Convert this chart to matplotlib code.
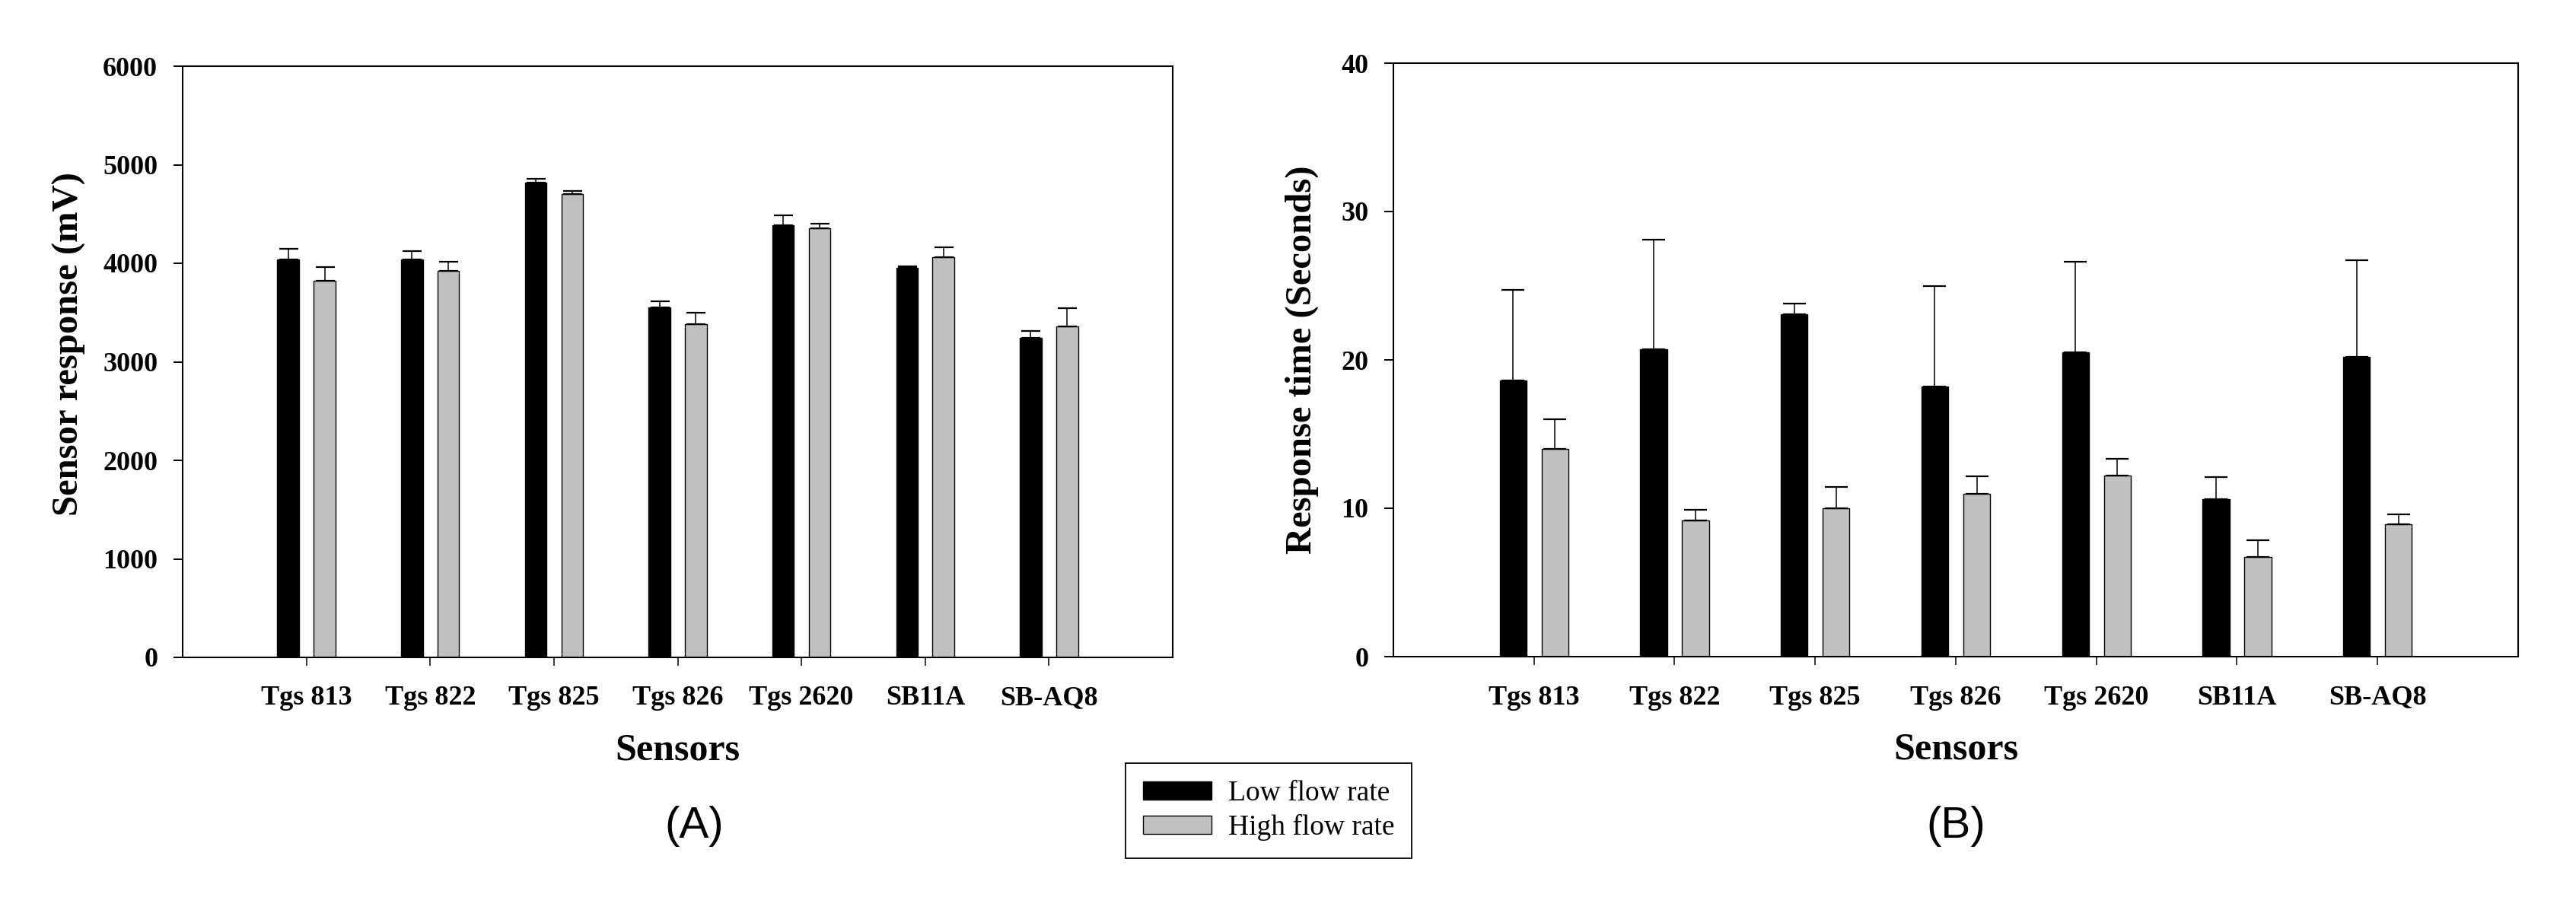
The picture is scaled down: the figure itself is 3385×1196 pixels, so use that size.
import numpy as np
import matplotlib
matplotlib.use('Agg')
import matplotlib.pyplot as plt

# data
sensors = ['Tgs 813', 'Tgs 822', 'Tgs 825', 'Tgs 826', 'Tgs 2620', 'SB11A', 'SB-AQ8']

resp_low = [4040, 4040, 4820, 3555, 4385, 3955, 3245]
resp_low_err = [105, 80, 40, 60, 105, 15, 70]
resp_high = [3820, 3925, 4705, 3380, 4355, 4065, 3360]
resp_high_err = [140, 90, 25, 115, 50, 95, 185]

time_low = [18.6, 20.7, 23.1, 18.2, 20.5, 10.6, 20.2]
time_low_err = [6.1, 7.4, 0.7, 6.8, 6.1, 1.5, 6.5]
time_high = [14.0, 9.2, 10.0, 11.0, 12.2, 6.7, 8.9]
time_high_err = [2.0, 0.7, 1.45, 1.15, 1.15, 1.15, 0.7]

W, H = 3385, 1196
plt.rcParams['font.family'] = ['Liberation Serif', 'DejaVu Serif']

fig = plt.figure(figsize=(W / 100, H / 100), dpi=100)

def px_axes(x0, x1, y0, y1):
    return fig.add_axes([x0 / W, 1 - y1 / H, (x1 - x0) / W, (y1 - y0) / H])

ax1 = px_axes(240, 1541, 87, 864)
ax2 = px_axes(1831, 3309, 83, 863)

x = np.arange(len(sensors))
gray = '#c0c0c0'


def draw(ax, low, low_err, high, high_err, width, off, cap, ylim, yticks, ylabel, ylab_y, ylab_x):
    b1 = ax.bar(x - off, low, width, color='black', edgecolor='black', linewidth=1.0,
                label='Low flow rate', zorder=2)
    b2 = ax.bar(x + off, high, width, color=gray, edgecolor='black', linewidth=1.0,
                label='High flow rate', zorder=2)
    # only the upper half of each error bar is drawn
    ax.errorbar(x - off, low, yerr=[np.zeros(len(low)), low_err], fmt='none',
                ecolor='black', elinewidth=1.1, capsize=cap, capthick=1.6, zorder=3)
    ax.errorbar(x + off, high, yerr=[np.zeros(len(high)), high_err], fmt='none',
                ecolor='black', elinewidth=1.1, capsize=cap, capthick=1.6, zorder=3)
    ax.set_xlim(-1, 7)
    ax.set_ylim(*ylim)
    ax.set_yticks(yticks)
    ax.set_xticks(x)
    ax.set_xticklabels(sensors)
    ax.tick_params(axis='y', direction='out', length=8.6, width=1.4, pad=15, labelsize=26)
    ax.tick_params(axis='x', direction='out', length=8, width=1.1, pad=19, labelsize=26)
    for lab in ax.get_xticklabels() + ax.get_yticklabels():
        lab.set_fontweight('bold')
    for sp in ax.spines.values():
        sp.set_linewidth(1.5)
    ax.set_ylabel(ylabel, fontsize=35, fontweight='bold')
    ax.yaxis.set_label_coords(ylab_x, ylab_y)
    ax.set_xlabel('Sensors', fontsize=36, fontweight='bold')
    ax.xaxis.set_label_coords(0.5, -0.128)
    return b1, b2


b1, b2 = draw(ax1, resp_low, resp_low_err, resp_high, resp_high_err, 0.175, 0.147, 9,
              (0, 6000), range(0, 6001, 1000), 'Sensor response (mV)', 0.53, -0.098)
draw(ax2, time_low, time_low_err, time_high, time_high_err, 0.19, 0.149, 11,
     (0, 40), range(0, 41, 10), 'Response time (Seconds)', 0.5, -0.066)

fig.text(912 / W, 1 - 1086 / H, '(A)', family='Liberation Sans', fontsize=42,
         ha='center', va='center')
fig.text(2570 / W, 1 - 1086 / H, '(B)', family='Liberation Sans', fontsize=42,
         ha='center', va='center')

leg = fig.legend([b1, b2], ['Low flow rate', 'High flow rate'], loc='center',
                 bbox_to_anchor=(1667 / W, 1 - 1065.5 / H), fontsize=27,
                 fancybox=False, edgecolor='black', framealpha=1,
                 handlelength=2.4, handleheight=0.6, labelspacing=0.25,
                 borderpad=0.6, handletextpad=0.6, borderaxespad=0)
leg.get_frame().set_linewidth(1.3)

fig.savefig('out.png', dpi=100, facecolor='white')
